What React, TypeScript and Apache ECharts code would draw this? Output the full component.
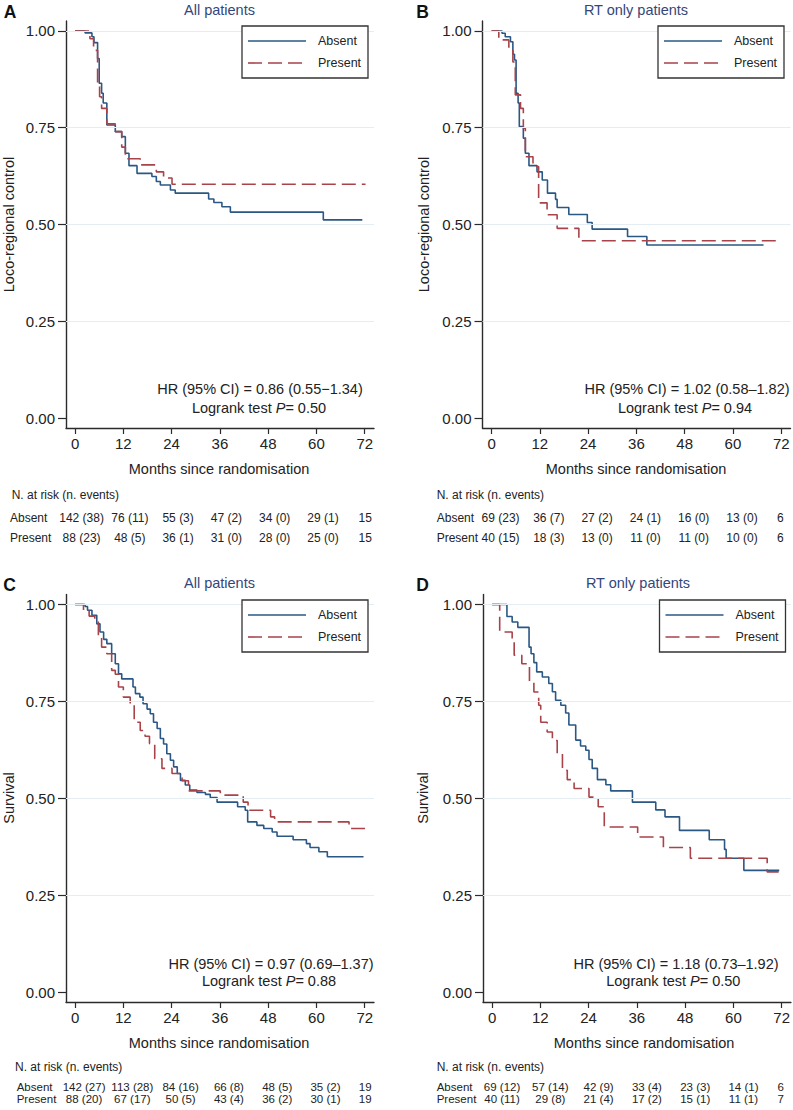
import React, { useEffect, useRef } from "react";
import * as echarts from "echarts";

// ---------- axis ticks & labels ----------
const monthTicks = [0, 12, 24, 36, 48, 60, 72];
const probTicks = [0, 0.25, 0.5, 0.75, 1];
const gridProbs = [0.25, 0.5, 0.75, 1];
const groupNames = ["Absent", "Present"];
const panelLetters = ["A", "B", "C", "D"];
const panelTitles = ["All patients", "RT only patients", "All patients", "RT only patients"];
const yTitles = ["Loco-regional control", "Loco-regional control", "Survival", "Survival"];
const xTitle = "Months since randomisation";
const riskHeader = "N. at risk (n. events)";
const hrTexts = [
  "HR (95% CI) = 0.86 (0.55\u22121.34)",
  "HR (95% CI) = 1.02 (0.58\u20131.82)",
  "HR (95% CI) = 0.97 (0.69\u20131.37)",
  "HR (95% CI) = 1.18 (0.73\u20131.92)",
];
const pValues = ["0.50", "0.94", "0.88", "0.50"];

// ---------- Kaplan-Meier curves (time in months, survival) ----------
// A: loco-regional control, all patients
const aAbsentT = [0, 2.5, 4.2, 4.7, 5.6, 6.0, 6.6, 7.0, 7.9, 10.0, 11.6, 12.5, 13.4, 15.4, 19.1, 20.2, 21.2, 23.7, 24.9, 33.2, 34.5, 36.5, 38.6, 61.7, 71.4];
const aAbsentS = [1, 0.995, 0.985, 0.97, 0.929, 0.865, 0.839, 0.814, 0.757, 0.74, 0.727, 0.684, 0.652, 0.632, 0.624, 0.611, 0.602, 0.589, 0.581, 0.566, 0.557, 0.546, 0.532, 0.512, 0.512];
const aPresentT = [0, 3.7, 4.6, 5.6, 6.1, 6.6, 7.9, 10.0, 11.6, 12.5, 16.2, 20.2, 22.0, 24.1, 72.2];
const aPresentS = [1, 0.98, 0.95, 0.86, 0.83, 0.8, 0.76, 0.74, 0.7, 0.67, 0.654, 0.636, 0.62, 0.604, 0.604];

// B: loco-regional control, RT only
const bAbsentT = [0, 2.6, 3.4, 4.7, 5.3, 5.7, 6.1, 6.6, 6.9, 7.9, 8.4, 9.3, 11.3, 12.6, 13.9, 15.9, 16.3, 19.2, 23.8, 25.0, 33.8, 38.6, 67.6];
const bAbsentS = [1, 0.994, 0.985, 0.972, 0.94, 0.925, 0.839, 0.814, 0.753, 0.723, 0.684, 0.652, 0.636, 0.615, 0.581, 0.565, 0.544, 0.526, 0.505, 0.488, 0.469, 0.447, 0.447];
const bPresentT = [0, 1.8, 4.3, 5.3, 5.9, 7.2, 7.9, 8.4, 10.3, 11.7, 13.8, 16.3, 21.7, 72.0];
const bPresentS = [1, 0.977, 0.955, 0.92, 0.835, 0.8, 0.749, 0.675, 0.65, 0.556, 0.525, 0.49, 0.458, 0.458];

// C: survival, all patients
const cAbsentT = [0, 2.5, 3.1, 4.2, 5.4, 6.2, 7.1, 7.9, 9.1, 10.0, 10.8, 11.6, 14.4, 15.0, 16.1, 16.9, 17.9, 18.7, 19.5, 20.4, 21.2, 22.0, 22.8, 23.7, 24.5, 25.4, 26.2, 27.4, 28.5, 30.3, 32.4, 33.6, 35.3, 40.4, 42.3, 42.9, 45.2, 46.9, 49.0, 50.2, 54.2, 57.5, 58.4, 60.6, 62.7, 71.7];
const cAbsentS = [1, 0.995, 0.985, 0.972, 0.95, 0.929, 0.91, 0.899, 0.873, 0.847, 0.821, 0.808, 0.787, 0.77, 0.761, 0.744, 0.73, 0.718, 0.696, 0.68, 0.654, 0.64, 0.615, 0.598, 0.581, 0.564, 0.546, 0.534, 0.521, 0.515, 0.51, 0.502, 0.49, 0.478, 0.469, 0.439, 0.43, 0.422, 0.413, 0.402, 0.393, 0.383, 0.373, 0.362, 0.349, 0.349];
const cPresentT = [0, 2.1, 3.5, 4.9, 5.8, 6.6, 7.9, 9.1, 10.0, 10.8, 12.0, 13.7, 14.7, 16.2, 17.4, 18.5, 19.8, 21.6, 24.1, 26.6, 28.2, 36.1, 41.8, 43.0, 48.6, 49.6, 68.1, 72.2];
const cPresentS = [1, 0.985, 0.97, 0.955, 0.92, 0.89, 0.873, 0.83, 0.82, 0.787, 0.761, 0.74, 0.696, 0.675, 0.66, 0.641, 0.602, 0.577, 0.564, 0.545, 0.519, 0.508, 0.49, 0.469, 0.452, 0.439, 0.422, 0.422];

// D: survival, RT only
const dAbsentT = [0, 3.7, 5.0, 6.4, 9.2, 9.7, 10.4, 11.1, 12.5, 14.1, 15.0, 15.8, 17.1, 18.3, 19.1, 20.8, 22.0, 23.3, 24.1, 24.9, 26.2, 28.3, 29.5, 34.9, 40.7, 43.0, 46.6, 54.0, 57.8, 58.2, 62.6, 71.4];
const dAbsentS = [1, 0.969, 0.955, 0.941, 0.89, 0.873, 0.85, 0.826, 0.813, 0.796, 0.775, 0.753, 0.74, 0.72, 0.689, 0.65, 0.635, 0.624, 0.6, 0.577, 0.548, 0.535, 0.519, 0.49, 0.47, 0.452, 0.417, 0.393, 0.368, 0.345, 0.314, 0.314];
const dPresentT = [0, 1.9, 5.0, 5.5, 7.4, 9.3, 10.4, 11.6, 12.1, 13.7, 15.0, 16.2, 17.5, 18.7, 20.4, 24.1, 26.4, 27.9, 36.2, 42.6, 49.3, 68.4, 71.9];
const dPresentS = [1, 0.929, 0.907, 0.869, 0.847, 0.8, 0.774, 0.74, 0.696, 0.671, 0.649, 0.615, 0.572, 0.548, 0.525, 0.503, 0.478, 0.426, 0.4, 0.373, 0.345, 0.31, 0.31];

// ---------- numbers at risk (n. events) ----------
const riskAAbsent = ["142 (38)", "76 (11)", "55 (3)", "47 (2)", "34 (0)", "29 (1)", "15"];
const riskAPresent = ["88 (23)", "48 (5)", "36 (1)", "31 (0)", "28 (0)", "25 (0)", "15"];
const riskBAbsent = ["69 (23)", "36 (7)", "27 (2)", "24 (1)", "16 (0)", "13 (0)", "6"];
const riskBPresent = ["40 (15)", "18 (3)", "13 (0)", "11 (0)", "11 (0)", "10 (0)", "6"];
const riskCAbsent = ["142 (27)", "113 (28)", "84 (16)", "66 (8)", "48 (5)", "35 (2)", "19"];
const riskCPresent = ["88 (20)", "67 (17)", "50 (5)", "43 (4)", "36 (2)", "30 (1)", "19"];
const riskDAbsent = ["69 (12)", "57 (14)", "42 (9)", "33 (4)", "23 (3)", "14 (1)", "6"];
const riskDPresent = ["40 (11)", "29 (8)", "21 (4)", "17 (2)", "15 (1)", "11 (1)", "7"];

const curves = [
  [[aAbsentT, aAbsentS], [aPresentT, aPresentS]],
  [[bAbsentT, bAbsentS], [bPresentT, bPresentS]],
  [[cAbsentT, cAbsentS], [cPresentT, cPresentS]],
  [[dAbsentT, dAbsentS], [dPresentT, dPresentS]],
];
const risks = [
  [riskAAbsent, riskAPresent],
  [riskBAbsent, riskBPresent],
  [riskCAbsent, riskCPresent],
  [riskDAbsent, riskDPresent],
];

// ---------- layout / style ----------
const FONT = "'Liberation Sans', Arial, Helvetica, sans-serif";
const BLUE = "#2a5783";
const RED = "#a8434a";
const AXIS = "#2b2b2b";
const GRIDC = "#e4eef2";
const TITLE_C = "#34467a";
const X_MIN = -2.25;
const X_MAX = 74.3;
const Y_MIN = -0.0258;
const Y_MAX = 1.0258;

const layout = [
  { left: 66, top: 21, width: 308, height: 407, title: [219.5, 9.5], letter: [10, 11.5], xTitle: [219, 469], yTitle: [8.7, 224.5],
    legend: [242, 26], hr: [[260, 389], [259, 407.7]], risk: { header: [11.7, 495], label: 10, rows: [518, 538], off: 6.5, lastOff: 0.5, size: 12 } },
  { left: 482.5, top: 21, width: 308, height: 407, title: [636, 9.5], letter: [422.5, 11.5], xTitle: [636, 469], yTitle: [424, 224.5],
    legend: [658, 26], hr: [[687, 389], [685, 407.7]], risk: { header: [436.7, 495], label: 436.7, rows: [518, 538], off: 9, lastOff: -1, size: 12 } },
  { left: 66, top: 594.5, width: 308, height: 407.5, title: [219.5, 582.7], letter: [9.5, 585], xTitle: [219, 1042.5], yTitle: [8.7, 798],
    legend: [242, 600], hr: [[271, 963.7], [269, 981.3]], risk: { header: [15, 1066.5], label: 16.7, rows: [1086.5, 1099], off: 9, lastOff: 0.5, size: 11.5 } },
  { left: 483, top: 594.5, width: 308, height: 407.5, title: [638, 582.7], letter: [422.5, 585], xTitle: [644, 1042.5], yTitle: [422.5, 798],
    legend: [659.5, 600], hr: [[676, 963.7], [673.3, 981.3]], risk: { header: [436.7, 1066.5], label: 436.7, rows: [1086.5, 1099], off: 10, lastOff: -1, size: 11.5 } },
];

function txt(x: number, y: number, text: string, opts: any = {}) {
  return {
    type: "text",
    x,
    y,
    rotation: opts.rotation || 0,
    silent: true,
    style: {
      text,
      fill: opts.color || "#222",
      font: `${opts.italic ? "italic " : ""}${opts.bold ? "bold " : ""}${opts.size || 14.5}px ${FONT}`,
      fontSize: opts.size || 14.5,
      fontFamily: FONT,
      fontWeight: opts.bold ? "bold" : "normal",
      align: opts.align || "center",
      textAlign: opts.align || "center",
      verticalAlign: "middle",
      textVerticalAlign: "middle",
      rich: opts.rich,
    },
  };
}

function buildOption() {
  const grid: any[] = [];
  const xAxis: any[] = [];
  const yAxis: any[] = [];
  const series: any[] = [];
  const graphic: any[] = [];

  layout.forEach((L, p) => {
    grid.push({ left: L.left, top: L.top, width: L.width, height: L.height, containLabel: false });
    xAxis.push({
      type: "value",
      gridIndex: p,
      min: X_MIN,
      max: X_MAX,
      axisLine: { show: true, onZero: false, lineStyle: { color: AXIS, width: 1.4 } },
      axisTick: { show: true, length: 6, customValues: monthTicks, lineStyle: { color: AXIS, width: 1.2 } },
      axisLabel: { customValues: monthTicks, margin: 8, fontSize: 15, color: "#222", fontFamily: FONT },
      splitLine: { show: false },
    });
    yAxis.push({
      type: "value",
      gridIndex: p,
      min: Y_MIN,
      max: Y_MAX,
      axisLine: { show: true, onZero: false, lineStyle: { color: AXIS, width: 1.4 } },
      axisTick: { show: true, length: 8, customValues: probTicks, lineStyle: { color: AXIS, width: 1.2 } },
      axisLabel: {
        customValues: probTicks,
        margin: 11,
        fontSize: 15,
        color: "#222",
        fontFamily: FONT,
        formatter: (v: number) => v.toFixed(2),
      },
      splitLine: { show: false },
    });
    // grid lines
    series.push({
      type: "line",
      xAxisIndex: p,
      yAxisIndex: p,
      data: [],
      z: 1,
      silent: true,
      markLine: {
        silent: true,
        symbol: ["none", "none"],
        label: { show: false },
        lineStyle: { color: GRIDC, type: "solid", width: 1.2 },
        data: gridProbs.map((v) => ({ yAxis: v })),
      },
    });
    curves[p].forEach((c, g) => {
      const [ts, ss] = c;
      series.push({
        name: groupNames[g],
        type: "line",
        xAxisIndex: p,
        yAxisIndex: p,
        step: "end",
        showSymbol: false,
        symbol: "none",
        z: g === 0 ? 3 : 4,
        lineStyle: g === 0 ? { color: BLUE, width: 1.6, type: "solid" } : { color: RED, width: 1.6, type: [14, 6] },
        data: ts.map((t, i) => [t, ss[i]]),
      });
    });

    // panel letter, title
    graphic.push(txt(L.letter[0], L.letter[1], panelLetters[p], { bold: true, size: 17.5, color: "#111" }));
    graphic.push(txt(L.title[0], L.title[1], panelTitles[p], { color: TITLE_C }));
    graphic.push(txt(L.xTitle[0], L.xTitle[1], xTitle, {}));
    graphic.push(txt(L.yTitle[0], L.yTitle[1], yTitles[p], { rotation: Math.PI / 2 }));

    // legend
    const [lx, ly] = L.legend;
    graphic.push({
      type: "rect",
      shape: { x: lx, y: ly, width: 126, height: 52 },
      style: { fill: "#fff", stroke: "#333", lineWidth: 1.3 },
      silent: true,
      z: 10,
    });
    [0, 1].forEach((g) => {
      const yy = ly + 15 + g * 22;
      graphic.push({
        type: "line",
        shape: { x1: lx + 6, y1: yy, x2: lx + 64, y2: yy },
        style: { stroke: g === 0 ? BLUE : RED, lineWidth: 1.6, lineDash: g === 0 ? null : [14, 6] },
        silent: true,
        z: 11,
      });
      const t = txt(lx + 76, yy, groupNames[g], { size: 12.5, align: "left" });
      (t as any).z = 11;
      graphic.push(t);
    });

    // HR and logrank
    graphic.push(txt(L.hr[0][0], L.hr[0][1], hrTexts[p], {}));
    graphic.push(
      txt(L.hr[1][0], L.hr[1][1], `Logrank test {i|P}= ${pValues[p]}`, {
        rich: { i: { fontStyle: "italic", fontSize: 14.5, fontFamily: FONT, fill: "#222" } },
      })
    );

    // risk table
    const xs = (t: number) => L.left + ((t - X_MIN) / (X_MAX - X_MIN)) * L.width;
    graphic.push(txt(L.risk.header[0], L.risk.header[1], riskHeader, { size: 12, align: "left" }));
    [0, 1].forEach((g) => {
      const yy = L.risk.rows[g];
      graphic.push(txt(L.risk.label, yy, groupNames[g], { size: L.risk.size, align: "left" }));
      risks[p][g].forEach((s, k) => {
        const off = k === monthTicks.length - 1 ? L.risk.lastOff : L.risk.off;
        graphic.push(txt(xs(monthTicks[k]) + off, yy, s, { size: L.risk.size }));
      });
    });
  });

  return {
    animation: false,
    backgroundColor: "#ffffff",
    textStyle: { fontFamily: FONT },
    grid,
    xAxis,
    yAxis,
    series,
    graphic: { elements: graphic },
  };
}

export default function App() {
  const ref = useRef<HTMLDivElement>(null);
  useEffect(() => {
    if (!ref.current) return;
    const chart = echarts.init(ref.current, null, { renderer: "svg" });
    chart.setOption(buildOption() as any);
    return () => chart.dispose();
  }, []);
  return (
    <div
      ref={ref}
      style={{ position: "absolute", left: 0, top: 0, width: 793, height: 1110, background: "#fff" }}
    />
  );
}
